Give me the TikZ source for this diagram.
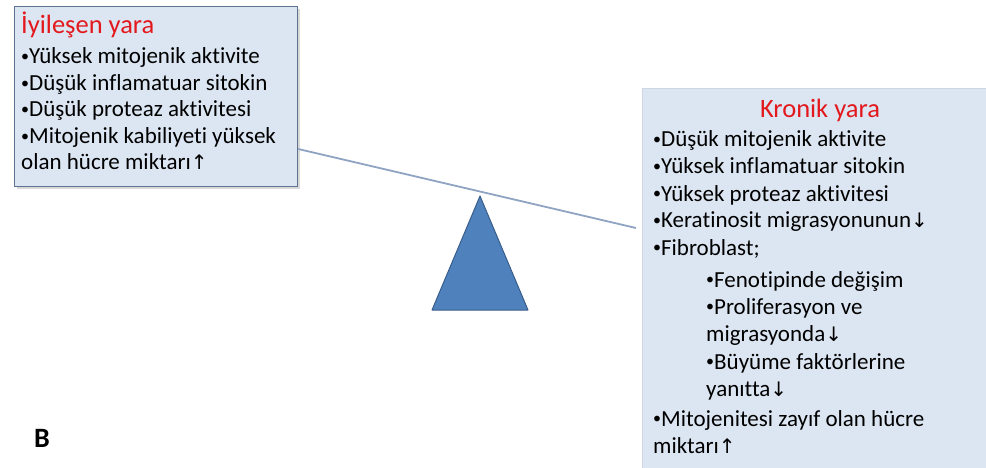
\documentclass[tikz,border=0pt]{standalone}
\usepackage{fontspec}
\setmainfont{Carlito}[Ligatures=NoCommon]
\newfontfamily\arrowfont{DejaVu Sans}
\usetikzlibrary{positioning,shadows}

\definecolor{boxfill}{HTML}{DCE6F2}
\definecolor{boxline}{HTML}{5F7390}
\definecolor{titlered}{HTML}{E3181D}
\definecolor{trifill}{HTML}{4F81BD}
\definecolor{triline}{HTML}{385D8A}
\definecolor{beamcol}{HTML}{8FA3C2}

\newcommand{\upar}{{\arrowfont\fontsize{20}{27}\selectfont ↑}}
\newcommand{\downar}{{\arrowfont\fontsize{20}{27}\selectfont ↓}}
\newcommand{\bul}{{\fontsize{16}{27}\selectfont\raisebox{2.5pt}{•}}}

\tikzset{
  woundbox/.style={rectangle, fill=boxfill, inner sep=0pt},
  itemtext/.style={anchor=base west, inner sep=0pt, font=\fontsize{23}{27}\selectfont},
  woundtitle/.style={inner sep=0pt, text=titlered, font=\fontsize{26.5}{30}\selectfont}
}

\begin{document}
\begin{tikzpicture}[x=1pt,y=-1pt]
\useasboundingbox (0,0) rectangle (986,468);

% boxes
\node[woundbox, draw=boxline, line width=1.2pt, drop shadow={opacity=0.3},
      anchor=north west, minimum width=283pt, minimum height=180pt] (iyi) at (14,6) {};
\node[woundbox, draw=boxfill!85!gray, line width=0.6pt,
      anchor=north west, minimum width=360pt, minimum height=390pt] (kronik) at (642,88) {};

% beam and pivot
\coordinate (beamL) at (iyi.east |- 0,149);
\coordinate (beamR) at (636,228);
\draw[beamcol, line width=1.8pt] (beamL) -- (beamR);

\coordinate (apex) at (480,196);
\coordinate (baseL) at (432,310);
\coordinate (baseR) at (528,310);
\draw[fill=trifill, draw=triline, line width=1pt, line join=round]
  (apex) -- (baseL) -- (baseR) -- cycle;

% left list
\node[woundtitle, anchor=base west] (iyiT) at (21,34) {İyileşen yara};
\node[itemtext] (i1) at (21,64) {\bul Yüksek mitojenik aktivite};
\node[itemtext] (i2) at (21,91) {\bul Düşük inflamatuar sitokin};
\node[itemtext] (i3) at (21,117) {\bul Düşük proteaz aktivitesi};
\node[itemtext] (i4) at (21,144) {\bul Mitojenik kabiliyeti yüksek};
\node[itemtext] (i5) at (21,170) {olan hücre miktarı\upar};

% right list
\node[woundtitle, anchor=base] (kronikT) at (820,118) {Kronik yara};
\node[itemtext] (k1) at (653,147) {\bul Düşük mitojenik aktivite};
\node[itemtext] (k2) at (653,174) {\bul Yüksek inflamatuar sitokin};
\node[itemtext] (k3) at (653,201) {\bul Yüksek proteaz aktivitesi};
\node[itemtext] (k4) at (653,228) {\bul Keratinosit migrasyonunun\downar};
\node[itemtext] (k5) at (653,255) {\bul Fibroblast;};
\node[itemtext] (k6) at (706,287) {\bul Fenotipinde değişim};
\node[itemtext] (k7) at (706,314) {\bul Proliferasyon ve};
\node[itemtext] (k8) at (706,341) {migrasyonda\downar};
\node[itemtext] (k9) at (706,369) {\bul Büyüme faktörlerine};
\node[itemtext] (k10) at (706,396) {yanıtta\downar};
\node[itemtext] (k11) at (653,426) {\bul Mitojenitesi zayıf olan hücre};
\node[itemtext] (k12) at (653,453) {miktarı\upar};

\node[anchor=base west, inner sep=0pt, font=\bfseries\fontsize{28}{30}\selectfont] (panelB) at (34,447) {B};

\end{tikzpicture}
\end{document}
